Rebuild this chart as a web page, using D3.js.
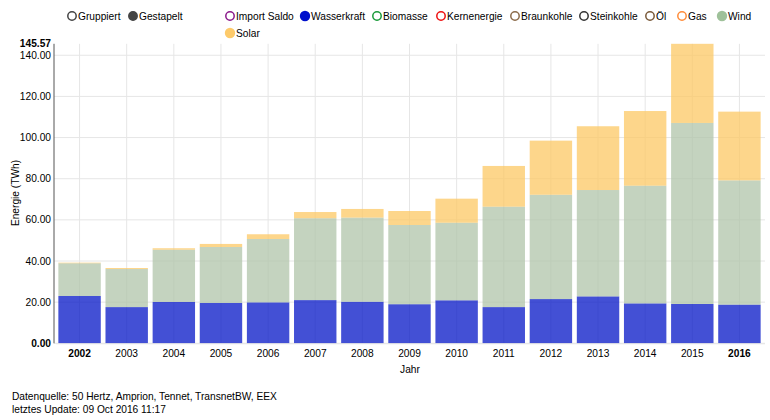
<!DOCTYPE html>
<html><head><meta charset="utf-8">
<script src="https://cdn.jsdelivr.net/npm/d3@7/dist/d3.min.js"></script>
<style>
body{margin:0;background:#fff;}
svg text{font-family:"Liberation Sans",Arial,Helvetica,sans-serif;font-size:10.2px;fill:#000;}
</style></head><body>
<svg id="c" width="770" height="420"></svg>
<script>
const years = ["2002","2003","2004","2005","2006","2007","2008","2009","2010","2011","2012","2013","2014","2015","2016"];
const wasserkraft = [23.0,17.6,20.1,19.6,19.9,21.0,20.2,19.0,20.9,17.6,21.5,22.8,19.4,19.1,18.8];
const wind = [15.9,18.5,25.4,27.2,30.8,39.8,40.9,38.5,37.7,48.8,50.7,51.7,57.2,88.0,60.4];
const solar = [0.3,0.5,0.7,1.5,2.3,3.0,4.2,6.8,11.7,19.8,26.3,31.0,36.3,38.47,33.4];
const yTicks = [0,20,40,60,80,100,120,140];
const yMax = 145.57;
const modeLabels = ["Gruppiert","Gestapelt"];
const seriesLabels = ["Import Saldo","Wasserkraft","Biomasse","Kernenergie","Braunkohle","Steinkohle","Öl","Gas","Wind","Solar"];
const seriesColors = ["#8b1a8b","#0010cc","#1a9a3a","#ee1111","#8b6b4a","#333333","#7a5a3a","#ff8c3a","#9fc19a","#fdca6a"];
const seriesActive = [false,true,false,false,false,false,false,false,true,true];

const svg = d3.select("#c");
const x = d3.scaleBand().domain(years).range([56,763]).paddingInner(0.1).paddingOuter(0.05);
const y = d3.scaleLinear().domain([0,yMax]).range([343.3,43.8]);

// grid
const g = svg.append("g");
g.selectAll("line.h").data(yTicks).join("line")
  .attr("x1",54).attr("x2",765).attr("y1",d=>y(d)).attr("y2",d=>y(d))
  .attr("stroke","#e6e6e6").attr("stroke-width",1);
g.selectAll("line.v").data(years).join("line")
  .attr("x1",d=>x(d)+x.bandwidth()/2).attr("x2",d=>x(d)+x.bandwidth()/2)
  .attr("y1",y(yMax)).attr("y2",y(0))
  .attr("stroke","#e6e6e6").attr("stroke-width",1);

// stacked bars
const rows = years.map((yr,i)=>({year:yr,Wasserkraft:wasserkraft[i],Wind:wind[i],Solar:solar[i]}));
const keys = ["Wasserkraft","Wind","Solar"];
const fills = {Wasserkraft:"#0416c7",Wind:"#b0c4aa",Solar:"#fcc864"};
const stack = d3.stack().keys(keys)(rows);
svg.append("g").selectAll("g").data(stack).join("g")
  .attr("fill",d=>fills[d.key]).attr("fill-opacity",0.75)
  .selectAll("rect").data(d=>d).join("rect")
  .attr("x",d=>x(d.data.year)).attr("width",x.bandwidth())
  .attr("y",d=>y(d[1])).attr("height",d=>y(d[0])-y(d[1]));

// y axis
const ya = svg.append("g").attr("transform","translate(54,0)");
ya.append("line").attr("x1",0).attr("x2",0).attr("y1",y(yMax)).attr("y2",y(0)).attr("stroke","#555").attr("stroke-width",1);
ya.selectAll("text.t").data(yTicks).join("text")
  .attr("x",-3).attr("y",d=>y(d)).attr("dy","0.35em").attr("text-anchor","end")
  .style("font-weight",d=>d===0?"bold":"normal")
  .text(d=>d3.format(".2f")(d));
ya.append("text").attr("x",-3).attr("y",y(yMax)).attr("dy","0.35em").attr("text-anchor","end")
  .style("font-weight","bold").text(d3.format(".2f")(yMax));
svg.append("text").attr("transform","translate(19,193) rotate(-90)").attr("text-anchor","middle").text("Energie (TWh)");

// x axis
svg.append("line").attr("x1",56).attr("x2",765).attr("y1",y(0)+0.5).attr("y2",y(0)+0.5).attr("stroke","#e6e6e6");
svg.append("g").selectAll("text").data(years).join("text")
  .attr("x",d=>x(d)+x.bandwidth()/2).attr("y",357).attr("text-anchor","middle")
  .style("font-weight",(d,i)=>(i===0||i===years.length-1)?"bold":"normal").text(d=>d);
svg.append("text").attr("x",410).attr("y",373).attr("text-anchor","middle").text("Jahr");

// legends
const modeX = [72,133];
const ml = svg.append("g").selectAll("g").data(modeLabels).join("g").attr("transform",(d,i)=>`translate(${modeX[i]},16)`);
ml.append("circle").attr("r",4.2).attr("stroke","#444").attr("stroke-width",1.5).attr("fill",(d,i)=>i===1?"#444":"#fff");
ml.append("text").attr("x",6).attr("dy","0.35em").text(d=>d);

const legX = [230,305,377,441,515,584,650,682,722,230];
const legY = [16,16,16,16,16,16,16,16,16,33];
const sl = svg.append("g").selectAll("g").data(seriesLabels).join("g").attr("transform",(d,i)=>`translate(${legX[i]},${legY[i]})`);
sl.append("circle").attr("stroke-width",1.5)
  .attr("stroke",(d,i)=>seriesActive[i]?"none":seriesColors[i])
  .attr("fill",(d,i)=>seriesActive[i]?seriesColors[i]:"#fff")
  .attr("r",(d,i)=>seriesActive[i]?5.2:4.2);
sl.append("text").attr("x",6).attr("dy","0.35em").text(d=>d);

// footer
svg.append("text").attr("x",12).attr("y",400).text("Datenquelle: 50 Hertz, Amprion, Tennet, TransnetBW, EEX");
svg.append("text").attr("x",12).attr("y",413).text("letztes Update: 09 Oct 2016 11:17");
</script></body></html>
